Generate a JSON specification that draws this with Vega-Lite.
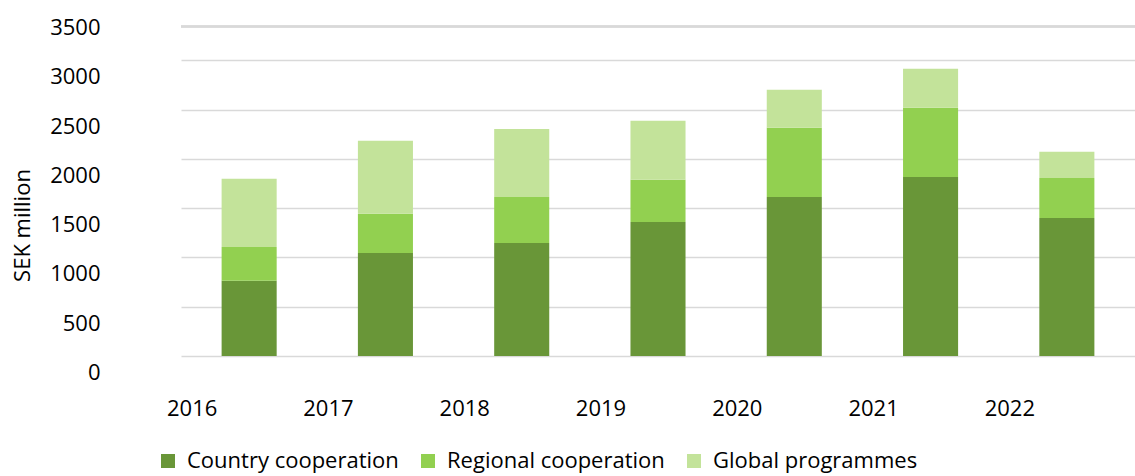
{
  "$schema": "https://vega.github.io/schema/vega-lite/v6.json",
  "autosize": {"type": "none"},
  "width": 954,
  "height": 345,
  "padding": {"left": 181, "top": 11, "right": 0, "bottom": 120},
  "background": "white",
  "config": {
    "view": {"stroke": null},
    "font": "Open Sans",
    "axis": {"labelFont": "Open Sans", "titleFont": "Open Sans", "labelColor": "#000000", "titleColor": "#000000"}
  },
  "data": {
    "values": [
      {"year": "2016", "category": "Country cooperation", "value": 764},
      {"year": "2016", "category": "Regional cooperation", "value": 343},
      {"year": "2016", "category": "Global programmes", "value": 690},
      {"year": "2017", "category": "Country cooperation", "value": 1046},
      {"year": "2017", "category": "Regional cooperation", "value": 396},
      {"year": "2017", "category": "Global programmes", "value": 741},
      {"year": "2018", "category": "Country cooperation", "value": 1147},
      {"year": "2018", "category": "Regional cooperation", "value": 467},
      {"year": "2018", "category": "Global programmes", "value": 690},
      {"year": "2019", "category": "Country cooperation", "value": 1360},
      {"year": "2019", "category": "Regional cooperation", "value": 427},
      {"year": "2019", "category": "Global programmes", "value": 599},
      {"year": "2020", "category": "Country cooperation", "value": 1614},
      {"year": "2020", "category": "Regional cooperation", "value": 701},
      {"year": "2020", "category": "Global programmes", "value": 385},
      {"year": "2021", "category": "Country cooperation", "value": 1817},
      {"year": "2021", "category": "Regional cooperation", "value": 701},
      {"year": "2021", "category": "Global programmes", "value": 396},
      {"year": "2022", "category": "Country cooperation", "value": 1401},
      {"year": "2022", "category": "Regional cooperation", "value": 406},
      {"year": "2022", "category": "Global programmes", "value": 264}
    ]
  },
  "layer": [
    {
      "mark": {"type": "rule", "color": "#D9D9D9", "strokeWidth": 1.5},
      "encoding": {"y": {"datum": 3343, "type": "quantitative"}}
    },
    {
      "transform": [
        {"calculate": "indexof(['Country cooperation','Regional cooperation','Global programmes'], datum.category)", "as": "stackOrder"}
      ],
      "mark": {"type": "bar"},
      "encoding": {
        "x": {
          "field": "year",
          "type": "nominal",
          "scale": {"paddingInner": 0.596, "paddingOuter": 0.298},
          "axis": {
            "title": null,
            "labelAngle": 0,
            "labelFontSize": 22,
            "labelOffset": -57,
            "labelPadding": 52,
            "labelBaseline": "middle",
            "ticks": false,
            "tickSize": 0,
            "domain": false,
            "grid": false
          }
        },
        "y": {
          "field": "value",
          "type": "quantitative",
          "stack": "zero",
          "scale": {"domain": [0, 3500], "nice": false, "zero": true},
          "axis": {
            "title": "SEK million",
            "titleFontSize": 22,
            "titleFontWeight": "normal",
            "titleAngle": -90,
            "titleX": -159,
            "titleY": 214,
            "titleAlign": "center",
            "titleBaseline": "middle",
            "values": [0, 500, 1000, 1500, 2000, 2500, 3000, 3500],
            "format": "d",
            "labelFontSize": 22,
            "labelOffset": 16.5,
            "labelPadding": 81,
            "labelBaseline": "middle",
            "ticks": false,
            "tickSize": 0,
            "domain": false,
            "grid": true,
            "gridColor": {"condition": {"test": "datum.value === 3500", "value": "transparent"}, "value": "#D9D9D9"},
            "gridWidth": 1.5
          }
        },
        "order": {"field": "stackOrder", "type": "quantitative", "sort": "ascending"},
        "color": {
          "field": "category",
          "type": "nominal",
          "sort": ["Country cooperation", "Regional cooperation", "Global programmes"],
          "scale": {
            "domain": ["Country cooperation", "Regional cooperation", "Global programmes"],
            "range": ["#699638", "#92D050", "#C3E39A"]
          },
          "legend": {
            "title": null,
            "orient": "none",
            "legendX": -24,
            "legendY": 439,
            "direction": "horizontal",
            "columns": 3,
            "symbolType": "square",
            "symbolSize": 196,
            "symbolStrokeWidth": 0,
            "labelFont": "Open Sans",
            "labelFontSize": 22,
            "labelColor": "#000000",
            "labelOffset": 8,
            "columnPadding": 18,
            "labelLimit": 400
          }
        }
      }
    }
  ]
}
